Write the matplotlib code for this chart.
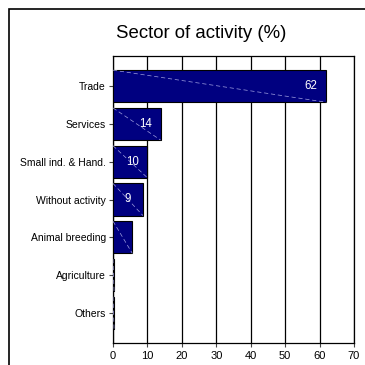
import matplotlib
matplotlib.use("Agg")
import matplotlib.pyplot as plt
from matplotlib.patches import Rectangle

NAVY = "#000080"

sectors = ["Trade", "Services", "Small ind. & Hand.", "Without activity",
           "Animal breeding", "Agriculture", "Others"]
values = [62, 13.8, 10, 8.7, 5.6, 0.3, 0.3]
labels = ["62", "14", "10", "9", "", "", ""]
xticks = [0, 10, 20, 30, 40, 50, 60, 70]

plt.rcParams["font.family"] = ["Liberation Sans", "DejaVu Sans"]

fig = plt.figure(figsize=(3.65, 3.65), dpi=100, facecolor="white")
ax = fig.add_axes([113 / 365, 22 / 365, 241 / 365, 287 / 365])

ypos = list(range(len(sectors)))
h = 0.85
ax.barh(ypos, values, height=h, color=NAVY, edgecolor="black", linewidth=0.8, zorder=3)

# faint diagonal line across each bar
for y, v in zip(ypos, values):
    ax.plot([0, v], [y - h / 2, y + h / 2], color="#a0a0e0", lw=0.5,
            ls=(0, (6, 4)), zorder=4)

for y, v, t in zip(ypos, values, labels):
    if t:
        ax.annotate(t, xy=(v, y), xytext=(-11, 0), textcoords="offset points",
                    ha="center", va="center", color="white", fontsize=8.3, zorder=5)

ax.set_xlim(0, 70)
ax.set_ylim(6.8, -0.8)
ax.set_xticks(xticks)
ax.set_yticks(ypos)
ax.set_yticklabels(sectors)
ax.tick_params(axis="y", labelsize=7.5, length=3, width=0.8, color="#444444", pad=2)
ax.tick_params(axis="x", labelsize=8, length=3, width=0.8, color="#444444", pad=3)
ax.grid(axis="x", color="black", lw=0.9, zorder=0)
for s in ax.spines.values():
    s.set_linewidth(0.9)

fig.text(201 / 365, 1 - 34 / 365, "Sector of activity (%)", ha="center", va="center",
         fontsize=13.4)

fig.add_artist(Rectangle((9 / 365, -0.1), 1.2, 1 - 9 / 365 + 0.1, transform=fig.transFigure,
                         fill=False, edgecolor="black", lw=1.2))

fig.savefig("out.png", dpi=100, facecolor="white")
